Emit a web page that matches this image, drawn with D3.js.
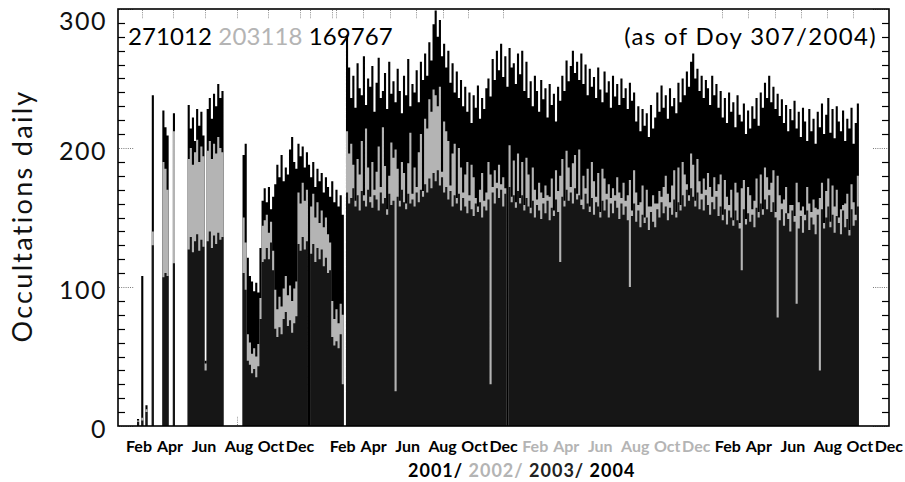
<!DOCTYPE html>
<html>
<head>
<meta charset="utf-8">
<script src="https://cdn.jsdelivr.net/npm/d3@7"></script>
<style>
  body { margin: 0; background: #fff; }
  svg { display: block; font-family: Lato, "Open Sans", sans-serif; }
</style>
</head>
<body>
<svg id="chart" width="905" height="482"></svg>
<script>
// Daily occultation counts, aggregated into 4-day bins starting 1 Jan 2001.
const binDays = 4;
const firstDay = "2001-01-01";

// All recorded occultations per day (bin mean).
const occTotal = [
  null,null,null,null,null,null,null,null,null,5,
  null,108,null,15,null,null,238,null,null,null,
  null,227,215,209,null,null,225,null,null,null,
  null,null,null,231,214,222,205,228,216,226,
  209,47,228,236,221,239,230,246,236,241,
  null,null,null,null,null,null,null,null,null,195,
  203,121,108,104,97,103,96,128,162,171,
  161,172,156,165,174,188,179,195,176,186,
  181,199,208,190,185,203,194,201,186,197,
  188,179,190,172,185,176,182,168,179,172,
  165,176,161,170,158,166,152,null,281,258,
  236,252,229,261,243,238,266,231,250,244,
  259,226,247,265,236,241,254,228,262,239,
  248,233,257,241,225,252,238,264,230,246,
  240,256,233,262,249,268,252,276,263,289,
  299,280,292,266,275,258,270,247,261,240,
  255,236,249,230,244,226,240,218,238,229,
  245,221,236,228,243,250,237,264,249,270,
  256,275,251,266,244,272,258,261,246,268,
  253,270,241,262,236,248,230,252,241,226,
  249,235,243,222,246,231,239,219,244,234,
  252,241,263,248,259,270,254,262,249,268,
  246,260,238,257,244,251,236,258,242,233,
  255,240,248,229,252,237,246,231,250,236,
  243,228,247,234,240,219,230,212,228,216,
  225,208,231,214,222,240,226,245,229,238,
  221,243,230,236,225,247,233,250,238,255,
  244,262,268,250,257,241,252,236,249,243,
  231,252,238,246,229,241,222,236,218,240,
  226,233,215,238,224,219,232,210,227,214,
  230,221,236,216,240,229,247,236,252,233,
  244,228,239,223,235,218,231,212,228,220,
  234,214,226,208,229,219,205,228,212,221,
  203,226,215,232,210,224,236,211,228,207,
  230,219,212,227,205,221,214,229,203,218,
  232
];

// Second subset (light grey).
const occMid = [
  null,null,null,null,null,null,null,null,null,4,
  null,6,null,12,null,null,140,null,null,null,
  null,190,185,170,null,null,212,null,null,null,
  null,null,null,192,200,188,197,206,190,201,
  194,45,198,205,192,203,196,208,200,197,
  null,null,null,null,null,null,null,null,null,150,
  132,66,60,52,56,50,59,92,144,148,
  152,139,147,126,98,84,93,86,99,108,
  94,101,90,99,104,168,160,175,162,170,
  0,158,167,150,161,146,155,143,150,138,
  132,90,77,84,74,88,80,null,212,196,
  203,188,162,192,181,205,166,214,186,165,
  190,170,183,201,172,215,187,156,180,204,
  193,199,185,162,190,182,160,189,211,167,
  186,172,197,210,169,221,214,235,226,242,
  238,230,244,183,219,212,205,173,196,203,
  164,200,186,168,181,190,166,188,179,164,
  158,170,182,162,168,190,181,172,184,175,
  188,174,179,171,0,202,165,191,161,196,
  164,190,159,193,181,157,186,170,163,175,
  168,164,173,166,165,178,155,184,169,180,
  192,162,198,186,172,189,195,167,199,163,
  180,171,185,158,190,176,165,182,154,185,
  178,167,174,164,171,166,179,168,164,175,
  162,166,177,155,184,168,159,161,173,150,
  170,158,158,166,160,160,169,165,172,180,
  167,161,173,184,154,186,159,190,181,174,
  166,196,188,162,192,176,167,178,170,182,
  172,165,179,169,174,181,152,177,165,159,
  170,148,175,168,146,171,177,149,172,166,
  156,162,178,154,181,156,186,179,170,175,
  184,154,180,166,160,163,172,153,159,159,
  151,175,161,155,158,152,172,160,154,163,
  157,156,164,175,146,169,178,147,173,158,
  170,150,156,159,160,167,141,174,161,152,
  180
];

// Third subset (near-black, front).
const occLow = [
  null,null,null,null,null,null,null,null,null,3,
  null,4,null,10,null,null,130,null,null,null,
  null,107,110,108,null,null,117,null,null,null,
  null,null,null,127,136,125,133,138,126,134,
  129,40,133,140,128,137,131,139,134,136,
  null,null,null,null,null,null,null,null,null,110,
  98,47,44,38,41,35,43,77,118,120,
  128,120,132,112,70,64,71,66,77,82,
  72,76,67,74,79,131,126,136,127,133,
  0,124,131,118,128,120,127,115,121,110,
  112,64,58,61,56,66,30,null,168,160,
  164,171,158,166,155,169,162,158,170,161,
  157,166,163,155,168,160,164,152,167,159,
  162,25,165,158,170,161,156,167,160,163,
  158,168,161,170,165,174,168,178,171,182,
  176,184,173,179,168,172,163,169,158,166,
  160,167,155,164,158,153,162,156,151,160,
  154,161,150,158,155,163,30,168,160,171,
  164,170,158,167,0,172,161,166,157,169,
  160,166,155,164,158,153,162,150,159,155,
  149,160,153,162,148,157,151,163,154,118,
  165,158,170,162,168,160,171,163,166,159,
  156,167,160,154,164,152,161,158,150,162,
  155,163,150,160,153,162,157,149,160,152,
  158,148,100,151,160,147,155,143,152,146,
  150,141,154,147,143,156,150,161,153,158,
  148,157,152,163,150,161,155,166,158,170,
  162,171,165,158,168,156,163,155,166,159,
  152,161,156,165,151,158,148,156,145,155,
  150,144,155,148,142,112,156,145,153,147,
  152,143,157,150,160,152,163,156,166,154,
  161,150,78,148,156,144,153,149,140,155,
  147,88,142,151,139,148,155,141,150,145,
  138,152,40,156,142,150,158,143,152,139,
  151,146,138,155,143,149,137,156,144,148,
  158
];

// Overall totals printed in the header, one per series.
const seriesTotals = ["271012", "203118", "169767"];
const statusNote = "(as of Doy 307/2004)";

const yTicks = [0, 100, 200, 300];
const monthNames = ["Feb", "Apr", "Jun", "Aug", "Oct", "Dec"];
const years = ["2001", "2002", "2003", "2004"];
const yAxisTitle = "Occultations daily";

// Dotted marks along the time axis.
const tickDates = [
  "2001-02-15","2001-04-16","2001-06-15","2001-08-14","2001-10-13","2001-12-12",
  "2001-12-31","2002-02-10","2002-02-19","2002-04-11","2002-05-31","2002-07-20",
  "2002-09-08","2002-10-27","2003-01-01","2004-02-19","2004-04-09","2004-05-30",
  "2004-07-18","2004-09-05","2004-10-25"
];

// ---------------------------------------------------------------------------
const colors = { total: "#000000", mid: "#b4b4b4", low: "#161616" };
const monthColors = ["#000", "#000", "#b4b4b4", "#000"];
const yearColors = ["#000", "#b4b4b4", "#222", "#000"];

const plot = { left: 118, right: 889, top: 9, bottom: 426 };
const svg = d3.select("#chart");

const t0 = new Date(firstDay + "T00:00:00Z");
const dayMs = 864e5;
const binStart = i => new Date(t0.getTime() + i * binDays * dayMs);

const x = d3.scaleUtc()
  .domain([t0, new Date("2005-01-01T00:00:00Z")])
  .range([plot.left, plot.right]);
const y = d3.scaleLinear().domain([0, 300]).range([plot.bottom, plot.top]);

// Dotted time marks on the top and bottom edges (drawn under the bars).
const tickG = svg.append("g")
  .attr("stroke", "#8a8a8a").attr("stroke-width", 1)
  .attr("stroke-dasharray", "1 1.2");
tickDates.forEach(s => {
  const xx = Math.round(x(new Date(s + "T00:00:00Z"))) + 0.5;
  tickG.append("line").attr("x1", xx).attr("x2", xx)
    .attr("y1", plot.top + 1).attr("y2", plot.top + 10);
  tickG.append("line").attr("x1", xx).attr("x2", xx)
    .attr("y1", plot.bottom - 1).attr("y2", plot.bottom - 10);
});

// Bars: each series drawn as a stepped area from zero, overlapping in order.
function stepPoints(values) {
  const pts = [];
  values.forEach((v, i) => {
    pts.push({ t: binStart(i), v });
    pts.push({ t: binStart(i + 1), v });
  });
  return pts;
}
const area = d3.area()
  .defined(d => d.v != null)
  .x(d => x(d.t))
  .y0(y(0))
  .y1(d => y(d.v));

[[occTotal, colors.total], [occMid, colors.mid], [occLow, colors.low]]
  .forEach(([vals, c]) => {
    svg.append("path")
      .attr("d", area(stepPoints(vals)))
      .attr("fill", c);
  });

// Y axis minor ticks (every 10, solid) and major ticks (dotted), both sides.
const minor = d3.range(0, 301, 10).filter(v => v % 100 !== 0);
const axG = svg.append("g").attr("stroke", "#000").attr("stroke-width", 1.2);
minor.forEach(v => {
  const yy = Math.round(y(v)) + 0.5;
  axG.append("line").attr("x1", plot.left).attr("x2", plot.left + 7).attr("y1", yy).attr("y2", yy);
  axG.append("line").attr("x1", plot.right - 7).attr("x2", plot.right).attr("y1", yy).attr("y2", yy);
});
const majG = svg.append("g").attr("stroke", "#7a7a7a").attr("stroke-width", 1)
  .attr("stroke-dasharray", "1 1.2");
yTicks.forEach(v => {
  const yy = Math.round(y(v)) + 0.5;
  majG.append("line").attr("x1", plot.left + 1).attr("x2", plot.left + 16).attr("y1", yy).attr("y2", yy);
  majG.append("line").attr("x1", plot.right - 16).attr("x2", plot.right - 1).attr("y1", yy).attr("y2", yy);
});

// Frame
svg.append("rect")
  .attr("x", plot.left).attr("y", plot.top)
  .attr("width", plot.right - plot.left).attr("height", plot.bottom - plot.top)
  .attr("fill", "none").attr("stroke", "#000").attr("stroke-width", 1.6);

// Y tick labels
svg.append("g").selectAll("text").data(yTicks).join("text")
  .attr("x", 107)
  .attr("y", d => Math.max(y(d) + 3, 21))
  .attr("dy", "0.36em")
  .attr("text-anchor", "end")
  .attr("font-size", 25)
  .attr("letter-spacing", 1.5)
  .attr("fill", "#111")
  .text(d => d);

// Y axis title
svg.append("text")
  .attr("transform", "translate(32,216) rotate(-90)")
  .attr("text-anchor", "middle")
  .attr("font-size", 27)
  .attr("letter-spacing", 2.3)
  .attr("fill", "#111")
  .text(yAxisTitle);

// Header: per-series totals and status note
const hdr = svg.append("text")
  .attr("x", 128).attr("y", 45)
  .attr("font-size", 24).attr("letter-spacing", 0.1);
const totColors = [colors.total, colors.mid, colors.total];
seriesTotals.forEach((s, i) => {
  hdr.append("tspan").attr("fill", totColors[i]).text((i ? " " : "") + s);
});
svg.append("text")
  .attr("x", 877).attr("y", 45)
  .attr("text-anchor", "end")
  .attr("font-size", 24).attr("letter-spacing", 1.35)
  .attr("fill", "#000")
  .text(statusNote);

// Month labels, one group per year
const monthOffsets = [12, 43, 77, 112, 144, 173];
years.forEach((yr, gi) => {
  const gx = x(new Date(yr + "-01-01T00:00:00Z")) + (gi === 0 ? 9 : 20);
  monthNames.forEach((m, k) => {
    svg.append("text")
      .attr("x", gx + monthOffsets[k]).attr("y", 452)
      .attr("text-anchor", "middle")
      .attr("font-size", 16).attr("font-weight", 700)
      .attr("fill", monthColors[gi])
      .text(m);
  });
});

// Year line
const yl = svg.append("text")
  .attr("x", 408).attr("y", 477)
  .attr("font-size", 18).attr("font-weight", 700).attr("letter-spacing", 1);
years.forEach((yr, i) => {
  yl.append("tspan").attr("fill", yearColors[i])
    .text(yr + (i < years.length - 1 ? "/ " : ""));
});
</script>
</body>
</html>
